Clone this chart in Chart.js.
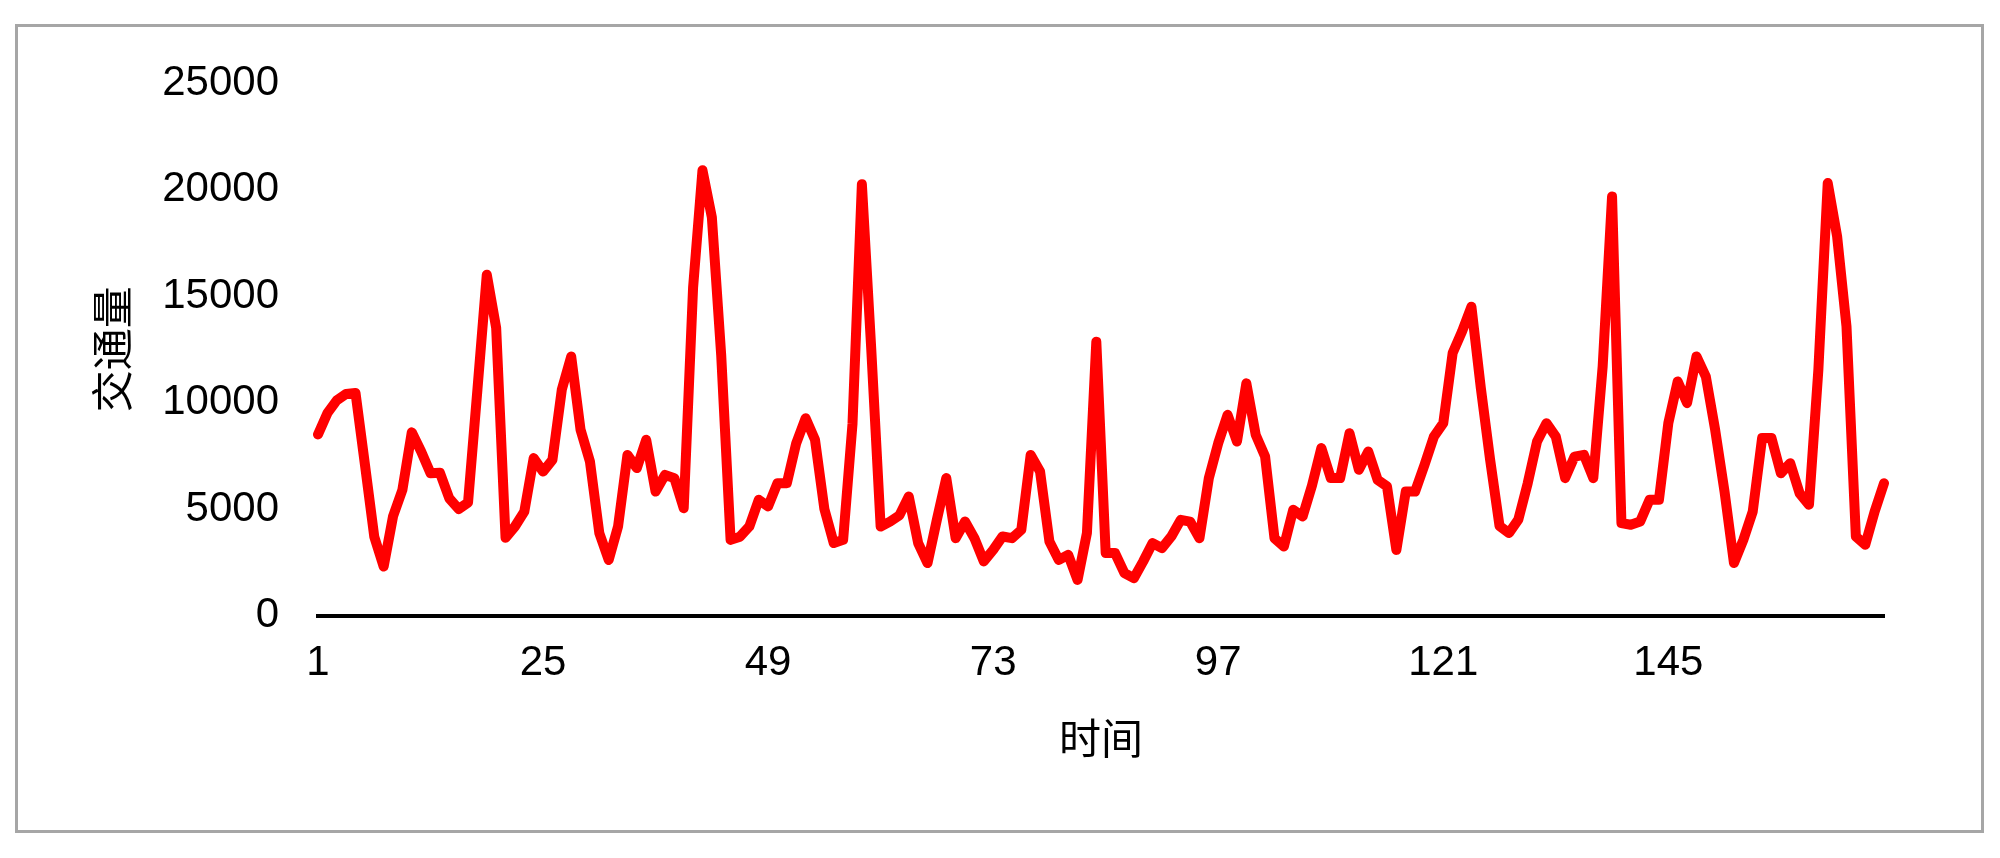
<!DOCTYPE html>
<html><head><meta charset="utf-8">
<script src="https://cdn.jsdelivr.net/npm/chart.js@4"></script>
<style>html,body{margin:0;padding:0;background:#fff;} canvas{display:block;}</style>
</head><body>
<canvas id="c" width="2000" height="858"></canvas>
<script>
const categories = Array.from({length: 168}, (_, i) => String(i + 1));
const tickLabels = ['1', '25', '49', '73', '97', '121', '145'];
const yTicks = [0, 5000, 10000, 15000, 20000, 25000];
const traffic = [
  8500, 9500, 10100, 10400, 10450, 7100, 3700, 2300, 4650, 5900,
  8600, 7700, 6680, 6700, 5500, 5000, 5300, 10600, 16000, 13500,
  3650, 4180, 4880, 7390, 6760, 7310, 10600, 12160, 8720, 7230,
  3870, 2610, 4180, 7540, 6920, 8250, 5820, 6600, 6450, 5040,
  15400, 20900, 18700, 12200, 3550, 3700, 4180, 5430, 5120, 6210,
  6210, 8090, 9260, 8250, 5000, 3400, 3550, 9000, 20250, 12500,
  4180, 4410, 4700, 5590, 3400, 2460, 4500, 6450, 3630, 4410,
  3630, 2540, 3080, 3710, 3630, 4020, 7540, 6760, 3470, 2610,
  2850, 1670, 3870, 12850, 2930, 2930, 1990, 1750, 2540, 3400,
  3160, 3710, 4490, 4410, 3630, 6450, 8090, 9420, 8170, 10900,
  8480, 7460, 3630, 3240, 4960, 4650, 6100, 7860, 6450, 6450,
  8560, 6840, 7700, 6370, 6060, 3080, 5820, 5820, 7070, 8400,
  9030, 12320, 13330, 14500, 10700, 7300, 4200, 3870, 4500, 6200,
  8170, 9030, 8400, 6450, 7460, 7540, 6450, 11700, 19670, 4340,
  4260, 4410, 5430, 5430, 9030, 10990, 9970, 12160, 11220, 8700,
  5800, 2460, 3550, 4880, 8330, 8330, 6680, 7150, 5740, 5200,
  11530, 20300, 17800, 13570, 3710, 3320, 4880, 6210
];

const FONT_FAMILY = '"Liberation Sans", "Noto Sans CJK SC", sans-serif';
const CJK_FAMILY = '"Noto Sans CJK SC", "Liberation Sans", sans-serif';

const frame = {
  id: 'frame',
  beforeDraw(chart) {
    const ctx = chart.ctx;
    ctx.save();
    ctx.fillStyle = '#ffffff';
    ctx.fillRect(0, 0, chart.width, chart.height);
    ctx.strokeStyle = '#a6a6a6';
    ctx.lineWidth = 3;
    ctx.strokeRect(16.5, 25.5, 1966, 806);
    ctx.restore();
  }
};

new Chart(document.getElementById('c'), {
  type: 'line',
  data: {
    labels: categories,
    datasets: [{
      data: traffic,
      borderColor: '#ff0000',
      borderWidth: 10,
      pointRadius: 0,
      tension: 0,
      fill: false,
      borderJoinStyle: 'round',
      borderCapStyle: 'round'
    }]
  },
  options: {
    responsive: false,
    animation: false,
    devicePixelRatio: 1,
    layout: {padding: {left: 0, right: 116, top: 83, bottom: 0}},
    plugins: {legend: {display: false}, tooltip: {enabled: false}},
    scales: {
      x: {
        type: 'category',
        offset: false,
        grid: {display: false, drawTicks: false},
        border: {display: true, color: '#000000', width: 4},
        ticks: {
          autoSkip: false,
          maxRotation: 0,
          minRotation: 0,
          padding: 23,
          color: '#000000',
          font: {family: FONT_FAMILY, size: 42},
          callback: function(value, index) {
            const l = categories[index];
            return tickLabels.includes(l) ? l : '';
          }
        },
        title: {
          display: true,
          text: '时间',
          color: '#000000',
          font: {family: CJK_FAMILY, size: 42},
          padding: {top: 0, bottom: 95}
        },
        afterFit: function(scale) { scale.height = 242.5; }
      },
      y: {
        min: 0,
        max: 25000,
        grid: {display: false, drawTicks: false},
        border: {display: false},
        afterBuildTicks: function(scale) { scale.ticks = yTicks.map(v => ({value: v})); },
        ticks: {
          padding: 39,
          color: '#000000',
          font: {family: FONT_FAMILY, size: 42},
          callback: function(value) { return String(value); }
        },
        title: {
          display: true,
          text: '交通量',
          color: '#000000',
          font: {family: CJK_FAMILY, size: 42},
          padding: {top: 87, bottom: 0}
        },
        afterFit: function(scale) { scale.width = 318; }
      }
    }
  },
  plugins: [frame]
});
</script>
</body></html>
